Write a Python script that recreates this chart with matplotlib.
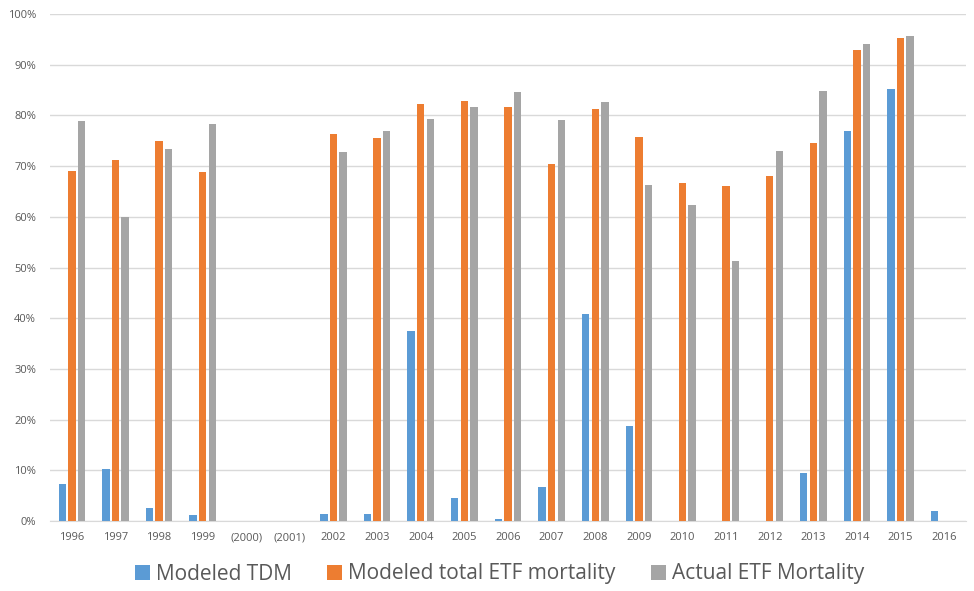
import numpy as np
import matplotlib.pyplot as plt
from matplotlib.ticker import PercentFormatter

years = ['1996', '1997', '1998', '1999', '(2000)', '(2001)', '2002', '2003', '2004',
         '2005', '2006', '2007', '2008', '2009', '2010', '2011', '2012', '2013',
         '2014', '2015', '2016']

modeled_tdm = [7.3, 10.3, 2.5, 1.1, 0, 0, 1.3, 1.3, 37.5, 4.6, 0.3, 6.8, 40.8,
               18.7, 0, 0, 0, 9.4, 76.9, 85.3, 2.0]
modeled_total = [69.0, 71.3, 75.0, 68.8, 0, 0, 76.3, 75.5, 82.2, 82.9, 81.6, 70.5,
                 81.2, 75.8, 66.7, 66.1, 68.0, 74.5, 92.9, 95.2, 0]
actual = [78.8, 60.0, 73.3, 78.3, 0, 0, 72.7, 77.0, 79.2, 81.6, 84.6, 79.0, 82.6,
          66.3, 62.3, 51.3, 73.0, 84.9, 94.0, 95.7, 0]

series = [
    ('Modeled TDM', modeled_tdm, '#5B9BD5'),
    ('Modeled total ETF mortality', modeled_total, '#ED7D31'),
    ('Actual ETF Mortality', actual, '#A5A5A5'),
]

plt.rcParams['font.family'] = ['Open Sans', 'DejaVu Sans']
text_color = '#595959'

fig = plt.figure(figsize=(9.74, 5.91), dpi=100)
ax = fig.add_axes([50 / 974, 70 / 591, 916 / 974, 507 / 591])

x = np.arange(len(years))
width = 0.17
step = 0.22
for i, (label, vals, color) in enumerate(series):
    ax.bar(x + (i - 1) * step, vals, width, color=color, label=label, zorder=3)

ax.set_xlim(-0.5, len(years) - 0.5)
ax.set_ylim(0, 100)
ax.set_yticks(np.arange(0, 101, 10))
ax.yaxis.set_major_formatter(PercentFormatter(decimals=0))
ax.set_xticks(x)
ax.set_xticklabels(years)
ax.tick_params(axis='both', length=0, labelsize=8, colors=text_color)
ax.tick_params(axis='x', pad=8)
ax.tick_params(axis='y', pad=10)
ax.grid(axis='y', color='#D9D9D9', linewidth=1, zorder=0)
for side in ['top', 'right', 'left']:
    ax.spines[side].set_visible(False)
ax.spines['bottom'].set_color('#D9D9D9')

fig.legend(loc='center', bbox_to_anchor=(0.513, 17 / 591), ncol=3, frameon=False,
           fontsize=15, labelcolor=text_color, handlelength=0.7, handleheight=0.7,
           handletextpad=0.3, columnspacing=1.7)

fig.savefig('out.png', dpi=100)
